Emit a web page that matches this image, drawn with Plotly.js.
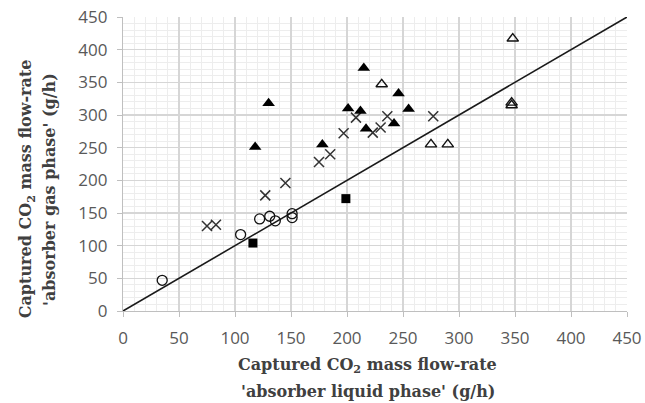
<!DOCTYPE html>
<html>
<head>
<meta charset="utf-8">
<script src="https://cdn.plot.ly/plotly-3.0.1.min.js"></script>
<style>html,body{margin:0;padding:0;background:#fff;}#chart{width:645px;height:403px;}</style>
</head>
<body>
<div id="chart"></div>
<script>
// Circles (open)
const circleX = [35, 105, 122, 131, 136, 151, 151];
const circleY = [47, 117, 141, 145, 138, 149, 143];
// Crosses
const crossX = [75, 83, 127, 145, 175, 185, 197, 208, 223, 230, 236, 277];
const crossY = [130, 132, 177, 196, 228, 240, 272, 296, 273, 281, 298, 298];
// Filled triangles
const triFX = [118, 130, 178, 201, 212, 215, 217, 242, 246, 255];
const triFY = [251, 318, 255, 310, 306, 372, 279, 287, 333, 309];
// Open triangles
const triOX = [231, 275, 290, 348, 347, 347];
const triOY = [347, 255, 255, 417, 319, 315];
// Filled squares
const sqX = [116, 199];
const sqY = [104, 172];
// Parity line
const lineX = [0, 450];
const lineY = [0, 450];

// Axis title lines
const xTitleLines = ["Captured CO<sub>2</sub> mass flow-rate", "'absorber liquid phase' (g/h)"];
const yTitleLines = ["Captured CO<sub>2</sub> mass flow-rate", "'absorber gas phase' (g/h)"];

const traces = [
  {x: lineX, y: lineY, mode: 'lines', line: {color: '#1a1a1a', width: 1.6}, hoverinfo: 'skip'},
  {x: circleX, y: circleY, mode: 'markers', marker: {symbol: 'circle-open', size: 10, color: '#111', line: {width: 1.3}}},
  {x: crossX, y: crossY, mode: 'markers', marker: {symbol: 'x-thin-open', size: 10, color: '#333', line: {width: 1.5, color: '#333'}}},
  {x: triFX, y: triFY, mode: 'markers', marker: {symbol: 'triangle-up', size: 11, color: '#000', line: {width: 0}}},
  {x: triOX, y: triOY, mode: 'markers', marker: {symbol: 'triangle-up-open', size: 10, color: '#111', line: {width: 1.4}}},
  {x: sqX, y: sqY, mode: 'markers', marker: {symbol: 'square', size: 9, color: '#000', line: {width: 0}}}
];

const tickFont = {family: 'Open Sans, sans-serif', size: 17, color: '#595959'};
const titleFont = {family: 'DejaVu Serif, serif', size: 16, color: '#404040', weight: 'bold'};

const axisCommon = {
  range: [0, 450],
  dtick: 50,
  tick0: 0,
  showgrid: true,
  gridcolor: '#d6d6d6',
  gridwidth: 1.2,
  minor: {dtick: 10, showgrid: true, gridcolor: '#ededed', gridwidth: 1},
  showline: true,
  linecolor: '#bfbfbf',
  linewidth: 1.2,
  ticks: 'outside',
  ticklen: 5,
  tickcolor: '#bfbfbf',
  tickfont: tickFont,
  ticklabelstandoff: 6,
  zeroline: false,
  fixedrange: true
};

const annotations = [
  {text: xTitleLines[0], xref: 'paper', yref: 'paper', x: 0.486, y: -0.184, xanchor: 'center', yanchor: 'middle', showarrow: false, font: titleFont},
  {text: xTitleLines[1], xref: 'paper', yref: 'paper', x: 0.486, y: -0.274, xanchor: 'center', yanchor: 'middle', showarrow: false, font: titleFont},
  {text: yTitleLines[0], xref: 'paper', yref: 'paper', x: -0.190, y: 0.415, xanchor: 'center', yanchor: 'middle', textangle: -90, showarrow: false, font: titleFont},
  {text: yTitleLines[1], xref: 'paper', yref: 'paper', x: -0.145, y: 0.415, xanchor: 'center', yanchor: 'middle', textangle: -90, showarrow: false, font: titleFont}
];

const layout = {
  width: 645,
  height: 403,
  margin: {l: 123, r: 18, t: 17, b: 92},
  paper_bgcolor: '#fff',
  plot_bgcolor: '#fff',
  showlegend: false,
  xaxis: Object.assign({}, axisCommon),
  yaxis: Object.assign({}, axisCommon),
  annotations: annotations
};

Plotly.newPlot('chart', traces, layout, {displayModeBar: false, staticPlot: true});
</script>
</body>
</html>
